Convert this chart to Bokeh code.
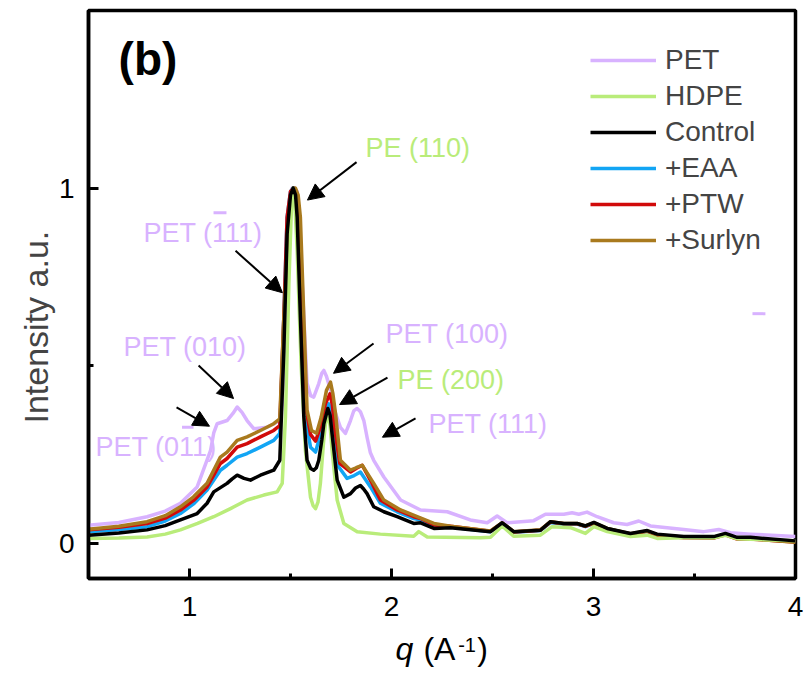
from bokeh.plotting import figure
from bokeh.models import (Range1d, FixedTicker, Legend, LegendItem, Arrow, NormalHead,
                          ColumnDataSource, Label, Title)
from bokeh.layouts import column
from bokeh.core.properties import value
from bokeh.embed import file_html
from bokeh.resources import INLINE

FONT = "Liberation Sans"

# ---------------- data ----------------
q_pet = [0.5, 0.65, 0.79, 0.88, 0.955, 1.038, 1.104, 1.12, 1.137, 1.186, 1.215, 1.236, 1.26, 1.285, 1.318,
         1.384, 1.45, 1.467, 1.483, 1.495, 1.508, 1.52, 1.533, 1.545, 1.558, 1.582, 1.6, 1.615, 1.64, 1.655,
         1.665, 1.678, 1.698, 1.72, 1.747, 1.772, 1.797, 1.813, 1.83, 1.846, 1.863, 1.88, 1.895, 1.912,
         1.962, 2.045, 2.144, 2.276, 2.39, 2.474, 2.523, 2.572, 2.704, 2.762, 2.853, 2.894, 2.927, 2.968,
         3.018, 3.1, 3.166, 3.224, 3.282, 3.447, 3.546, 3.62, 3.678, 3.777, 4.0]
i_pet = [0.05, 0.058, 0.074, 0.09, 0.112, 0.158, 0.26, 0.31, 0.336, 0.345, 0.365, 0.383, 0.368, 0.345, 0.322,
         0.326, 0.345, 0.449, 0.73, 0.9, 1.0, 1.0, 0.99, 0.9, 0.73, 0.45, 0.415, 0.411, 0.449, 0.478,
         0.486, 0.47, 0.43, 0.37, 0.326, 0.309, 0.345, 0.372, 0.379, 0.37, 0.345, 0.295, 0.255, 0.233,
         0.186, 0.121, 0.093, 0.088, 0.065, 0.057, 0.076, 0.057, 0.063, 0.081, 0.081, 0.085, 0.081, 0.087,
         0.074, 0.057, 0.052, 0.062, 0.048, 0.038, 0.032, 0.038, 0.029, 0.025, 0.018]

q_hdpe = [0.5, 0.65, 0.79, 0.88, 0.955, 1.04, 1.12, 1.203, 1.285, 1.368, 1.434, 1.459, 1.475, 1.492, 1.505,
          1.513, 1.522, 1.533, 1.553, 1.574, 1.599, 1.612, 1.624, 1.636, 1.648, 1.663, 1.673, 1.685, 1.696,
          1.706, 1.731, 1.764, 1.83, 1.945, 2.11, 2.135, 2.177, 2.441, 2.49, 2.548, 2.605, 2.737, 2.795,
          2.886, 2.96, 3.002, 3.068, 3.183, 3.266, 3.315, 3.447, 3.595, 3.653, 3.711, 4.0]
i_hdpe = [0.013, 0.014, 0.017, 0.025, 0.037, 0.055, 0.074, 0.097, 0.121, 0.135, 0.144, 0.168, 0.355, 0.73, 0.95,
          1.0, 0.95, 0.823, 0.495, 0.26, 0.129, 0.105, 0.097, 0.115, 0.168, 0.28, 0.336, 0.364, 0.33,
          0.26, 0.121, 0.055, 0.032, 0.025, 0.019, 0.032, 0.017, 0.015, 0.016, 0.048, 0.019, 0.022, 0.046,
          0.043, 0.027, 0.046, 0.032, 0.018, 0.022, 0.013, 0.015, 0.015, 0.022, 0.012, 0.006]

q_ctrl = [0.5, 0.65, 0.79, 0.88, 0.955, 1.038, 1.087, 1.12, 1.153, 1.186, 1.21, 1.236, 1.27, 1.302, 1.351,
          1.417, 1.447, 1.467, 1.483, 1.5, 1.513, 1.525, 1.533, 1.549, 1.566, 1.582, 1.6, 1.615, 1.628, 1.64,
          1.655, 1.665, 1.685, 1.696, 1.706, 1.731, 1.764, 1.797, 1.822, 1.846, 1.862, 1.879, 1.912,
          1.962, 2.028, 2.11, 2.144, 2.21, 2.292, 2.49, 2.548, 2.605, 2.737, 2.787, 2.853, 2.919, 2.96,
          3.002, 3.068, 3.183, 3.266, 3.315, 3.447, 3.595, 3.653, 3.711, 3.777, 4.0]
i_ctrl = [0.022, 0.028, 0.037, 0.049, 0.065, 0.083, 0.112, 0.144, 0.156, 0.168, 0.18, 0.191, 0.182, 0.177, 0.191,
          0.205, 0.233, 0.542, 0.87, 0.98, 1.0, 0.98, 0.917, 0.636, 0.355, 0.233, 0.21, 0.205, 0.212, 0.233,
          0.29, 0.336, 0.379, 0.36, 0.306, 0.177, 0.129, 0.139, 0.155, 0.162, 0.152, 0.139, 0.102,
          0.088, 0.074, 0.055, 0.057, 0.041, 0.043, 0.032, 0.057, 0.032, 0.036, 0.06, 0.055, 0.055, 0.048,
          0.058, 0.041, 0.027, 0.035, 0.025, 0.018, 0.018, 0.027, 0.016, 0.016, 0.006]

q_eaa = [0.5, 0.65, 0.79, 0.88, 0.955, 1.02, 1.087, 1.153, 1.186, 1.236, 1.285, 1.351, 1.417, 1.447, 1.467,
         1.483, 1.5, 1.513, 1.528, 1.541, 1.558, 1.574, 1.599, 1.624, 1.648, 1.673, 1.69, 1.703, 1.714,
         1.739, 1.78, 1.815, 1.846, 1.896, 1.945, 2.028, 2.11, 2.144, 2.21, 2.292, 2.49, 2.548, 2.605,
         2.737, 2.787, 2.853, 2.919, 2.96, 3.002, 3.068, 3.183, 3.266, 3.315, 3.447, 3.595, 3.653, 3.711,
         3.777, 4.0]
i_eaa = [0.032, 0.038, 0.046, 0.062, 0.083, 0.11, 0.149, 0.205, 0.219, 0.242, 0.252, 0.27, 0.289, 0.309, 0.636,
         0.917, 0.99, 1.0, 0.98, 0.917, 0.636, 0.355, 0.27, 0.256, 0.306, 0.364, 0.392, 0.37, 0.309,
         0.214, 0.182, 0.19, 0.2, 0.158, 0.112, 0.088, 0.069, 0.065, 0.046, 0.045, 0.032, 0.055, 0.03,
         0.035, 0.058, 0.053, 0.053, 0.046, 0.055, 0.04, 0.025, 0.033, 0.022, 0.016, 0.015, 0.024, 0.013,
         0.013, 0.004]

q_ptw = [0.5, 0.65, 0.79, 0.88, 0.955, 1.02, 1.087, 1.153, 1.186, 1.236, 1.285, 1.351, 1.417, 1.447, 1.467,
         1.483, 1.5, 1.516, 1.53, 1.544, 1.561, 1.578, 1.599, 1.624, 1.648, 1.673, 1.695, 1.707, 1.718,
         1.744, 1.797, 1.825, 1.855, 1.904, 1.945, 2.028, 2.11, 2.144, 2.21, 2.292, 2.49, 2.548, 2.605,
         2.737, 2.787, 2.853, 2.919, 2.96, 3.002, 3.068, 3.183, 3.266, 3.315, 3.447, 3.595, 3.653, 3.711,
         3.777, 4.0]
i_ptw = [0.037, 0.044, 0.055, 0.07, 0.093, 0.12, 0.158, 0.224, 0.238, 0.27, 0.28, 0.299, 0.317, 0.331, 0.636,
         0.917, 0.99, 1.0, 0.98, 0.917, 0.636, 0.374, 0.306, 0.287, 0.326, 0.392, 0.42, 0.39, 0.326,
         0.224, 0.2, 0.21, 0.219, 0.168, 0.121, 0.093, 0.074, 0.069, 0.051, 0.047, 0.033, 0.056, 0.031,
         0.036, 0.059, 0.054, 0.054, 0.047, 0.056, 0.04, 0.025, 0.033, 0.022, 0.015, 0.014, 0.023, 0.011,
         0.011, 0.003]

q_sur = [0.5, 0.65, 0.79, 0.88, 0.955, 1.02, 1.087, 1.153, 1.186, 1.236, 1.285, 1.351, 1.417, 1.447, 1.467,
         1.492, 1.508, 1.524, 1.538, 1.549, 1.566, 1.582, 1.604, 1.629, 1.652, 1.678, 1.698, 1.71, 1.723,
         1.747, 1.797, 1.825, 1.855, 1.912, 1.962, 2.045, 2.127, 2.21, 2.292, 2.49, 2.548, 2.605, 2.737,
         2.787, 2.853, 2.919, 2.96, 3.002, 3.068, 3.183, 3.266, 3.315, 3.447, 3.595, 3.653, 3.711, 3.777,
         4.0]
i_sur = [0.039, 0.047, 0.06, 0.077, 0.102, 0.13, 0.168, 0.242, 0.256, 0.289, 0.299, 0.317, 0.336, 0.35, 0.636,
         0.917, 0.99, 1.0, 0.98, 0.917, 0.636, 0.374, 0.317, 0.309, 0.355, 0.43, 0.453, 0.42, 0.364,
         0.233, 0.205, 0.212, 0.219, 0.168, 0.121, 0.093, 0.074, 0.055, 0.047, 0.034, 0.057, 0.032, 0.037,
         0.06, 0.055, 0.055, 0.048, 0.057, 0.041, 0.026, 0.034, 0.023, 0.016, 0.015, 0.025, 0.012, 0.012,
         0.002]

series_names = ["PET", "HDPE", "Control", "+EAA", "+PTW", "+Surlyn"]
x_ticks = [1, 2, 3, 4]
y_ticks = [0, 1]

# peak labels
pet_labels = ["PET (111)", "PET (010)", "PET (011)", "PET (100)", "PET (111)"]
pet_label_q = [0.772, 0.673, 0.535, 1.970, 2.183]
pet_label_i = [0.874, 0.553, 0.270, 0.590, 0.334]
pe_labels = ["PE (110)", "PE (200)"]
pe_label_q = [1.871, 2.030]
pe_label_i = [1.112, 0.458]

# overbars (Miller index bars)
bar_q0 = [1.119, 0.963, 3.787]
bar_q1 = [1.183, 1.020, 3.851]
bar_i = [0.930, 0.326, 0.646]

# arrows: start -> tip
arr_q0 = [1.827, 1.228, 1.045, 0.936, 1.911, 1.980, 2.119]
arr_i0 = [1.073, 0.823, 0.500, 0.382, 0.562, 0.466, 0.351]
arr_q1 = [1.584, 1.460, 1.218, 1.099, 1.713, 1.743, 1.955]
arr_i1 = [0.966, 0.705, 0.407, 0.329, 0.478, 0.390, 0.298]

# axis titles
ylabel = "Intensity a.u."
xlabel_parts = ["q", "(A", "-1", ")"]

# ---------------- styles ----------------
PURPLE = "#d8b2ff"
GREEN = "#b9ec7a"
colors = {"PET": PURPLE, "HDPE": GREEN, "Control": "#000000",
          "+EAA": "#12a5f4", "+PTW": "#d10a0a", "+Surlyn": "#a97a1e"}

p = figure(frame_width=707, frame_height=568, x_range=Range1d(0.5, 4), y_range=Range1d(-0.1, 1.5),
           output_backend="svg", toolbar_location=None,
           min_border_left=88, min_border_right=10, min_border_top=10, min_border_bottom=52)
p.background_fill_color = "white"
p.border_fill_color = "white"
p.outline_line_color = "black"
p.outline_line_width = 3.5
p.grid.visible = False

for ax in (p.xaxis[0], p.yaxis[0]):
    ax.axis_line_width = 3.5
    ax.major_tick_line_width = 3
    ax.minor_tick_line_width = 3
    ax.major_tick_in = 10
    ax.major_tick_out = 0
    ax.minor_tick_in = 5
    ax.minor_tick_out = 0
    ax.major_label_text_font = FONT
    ax.major_label_text_font_size = "28px"
    ax.major_label_text_color = "black"

p.xaxis.ticker = FixedTicker(ticks=x_ticks, minor_ticks=[0.5, 1.5, 2.5, 3.5])
p.yaxis.ticker = FixedTicker(ticks=y_ticks, minor_ticks=[0.5, 1.5])
p.xaxis.major_label_standoff = 18
p.yaxis.major_label_standoff = 14

# y title as a left-side Title so it can be shifted along the axis like the reference
p.add_layout(Title(text=ylabel, text_font=FONT, text_font_size="34px", text_font_style="normal",
                   align="left", offset=155, vertical_align="middle", standoff=0), "left")

data = {"PET": (q_pet, i_pet), "HDPE": (q_hdpe, i_hdpe), "Control": (q_ctrl, i_ctrl),
        "+EAA": (q_eaa, i_eaa), "+PTW": (q_ptw, i_ptw), "+Surlyn": (q_sur, i_sur)}
renderers = {}
for name in ["PET", "+EAA", "+PTW", "+Surlyn", "HDPE", "Control"]:
    qq, ii = data[name]
    renderers[name] = p.line(qq, ii, line_color=colors[name], line_width=3.5, line_join="round")

legend = Legend(items=[LegendItem(label=n, renderers=[renderers[n]]) for n in series_names],
                location=(502, 320), padding=0, margin=0, spacing=0,
                glyph_width=66, glyph_height=36, label_height=36, label_standoff=9,
                label_text_font=FONT, label_text_font_size="28px",
                background_fill_alpha=0, border_line_alpha=0)
p.add_layout(legend)

# annotation texts
p.text(pet_label_q, pet_label_i, text=pet_labels, text_color=PURPLE, text_font=value(FONT),
       text_font_size="27px", text_align="left", text_baseline="middle")
p.text(pe_label_q, pe_label_i, text=pe_labels, text_color=GREEN, text_font=value(FONT),
       text_font_size="27px", text_align="left", text_baseline="middle")
p.segment(bar_q0, bar_i, bar_q1, bar_i, line_color=PURPLE, line_width=3)

arrows = ColumnDataSource(dict(x0=arr_q0, y0=arr_i0, x1=arr_q1, y1=arr_i1))
p.add_layout(Arrow(source=arrows, x_start="x0", y_start="y0", x_end="x1", y_end="y1",
                   line_color="black", line_width=2,
                   end=NormalHead(size=16, fill_color="black", line_color="black", line_width=1)))

# panel letter
p.add_layout(Label(x=0.649, y=1.364, text="(b)", text_font=FONT, text_font_size="46px",
                   text_font_style="bold", text_baseline="middle", text_color="black"))

# ---- strip below the plot carrying the x-axis title (italic q, superscript -1) ----
p2 = figure(frame_width=707, frame_height=42, x_range=p.x_range, y_range=Range1d(0, 1),
            output_backend="svg", toolbar_location=None, x_axis_type=None, y_axis_type=None,
            min_border_left=88, min_border_right=10, min_border_top=0, min_border_bottom=0)
p2.outline_line_color = None
p2.grid.visible = False
p2.background_fill_color = "white"
p2.border_fill_color = "white"
p2.text([2.02], [0.55], text=[xlabel_parts[0]], text_font=value(FONT), text_font_size="32px",
        text_font_style="italic", text_baseline="middle", text_color="black")
p2.text([2.158], [0.55], text=[xlabel_parts[1]], text_font=value(FONT), text_font_size="32px",
        text_baseline="middle", text_color="black")
p2.text([2.33], [0.643], text=[xlabel_parts[2]], text_font=value(FONT), text_font_size="20px",
        text_baseline="middle", text_color="black")
p2.text([2.425], [0.55], text=[xlabel_parts[3]], text_font=value(FONT), text_font_size="32px",
        text_baseline="middle", text_color="black")

layout = column(p, p2, spacing=0)
open("out.html", "w").write(file_html(layout, INLINE))
